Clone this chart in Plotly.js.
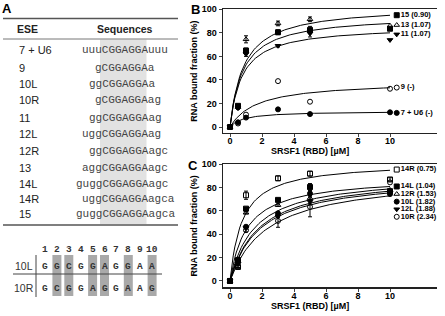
<!DOCTYPE html>
<html><head><meta charset="utf-8">
<script src="https://cdn.plot.ly/plotly-3.0.1.min.js"></script>
<style>html,body{margin:0;padding:0;background:#fff}#chart{width:445px;height:316px}</style>
</head><body><div id="chart"></div>
<script>
// ---------- Panel A : table ----------
const eseNames   = ['7 + U6','9','10L','10R','11','12L','12R','13','14L','14R','15'];
const seqPrefix  = ['uuu','g','gg','g','gg','ugg','gg','agg','gugg','ugg','gugg'];
const seqCore    = 'CGGAGGA';
const seqSuffix  = ['uuu','a','a','ag','ag','ag','agc','agc','agc','agca','agca'];
const alignPos   = ['1','2','3','4','5','6','7','8','9','10'];
const align10L   = ['G','G','C','G','G','A','G','G','A','A'];
const align10R   = ['G','C','G','G','A','G','G','A','A','G'];
const shadedPos  = [2,3,5,6,8,10];

// ---------- Panels B and C : binding data ----------
const conc = [0, 0.5, 1, 3, 5, 10];   // SRSF1 (RBD) µM

const bNames  = ['15','13','11','9','7 + U6'];
const bKd     = ['0.90','1.07','1.07','-','-'];
const bValues = [
  [0, 18, 65, 80.5, 82.5, 83.5],
  [0, 17, 74.5, 88, 91.5, 86],
  [0, 16, 62, 69, 79.5, 74],
  [0, 3, 10.5, 39, 21.5, 32.5],
  [0, 4, 8, 15, 11, 12.5]
];
const bErrors = [
  [0, 1, 2, 2, 3, 0],
  [0, 1, 3, 2, 2, 0],
  [0, 1, 2, 1, 3, 0],
  [0, 0, 0, 0, 0, 0],
  [0, 0, 0, 0, 0, 0]
];
const bFitKd   = [0.85, 0.8, 0.75, 1.7, 0.83];
const bFitBmax = [103, 95, 86, 39, 13.5];

const cNames  = ['14R','14L','12R','10L','12L','10R'];
const cKd     = ['0.75','1.04','1.53','1.82','1.88','2.34'];
const cValues = [
  [0, 12, 73.5, 88, 92, 87],
  [0, 18, 62, 69.5, 80.5, 77],
  [0, 17, 58.5, 65, 71, 78],
  [0, 16, 46.5, 58, 75, 74.5],
  [0, 15, 45.5, 55.5, 68, 75.5],
  [0, 12.5, 43.5, 51.5, 63.5, 84.5]
];
const cErrors = [
  [0, 1, 3.5, 2, 2, 1.5],
  [0, 1, 1, 1, 3, 1],
  [0, 0, 1, 1, 2, 0],
  [0, 0, 1, 1, 2, 0],
  [0, 0, 1, 1, 2, 0],
  [0, 1, 1.5, 5.5, 8.5, 0]
];
const cFitKd   = [0.75, 1.04, 1.53, 1.82, 1.88, 2.34];
const cFitBmax = [102, 89.4, 91, 91, 89.7, 90];

// ---------- styling / placement ----------
const W = 445, H = 316;
const px = v => v / W, py = v => 1 - v / H;
const bSymbols = ['square','triangle-up-open','triangle-down','circle-open','circle'];
const cSymbols = ['square-open','square','triangle-up-open','circle','triangle-down','circle-open'];
const bLabelY = [95, 86.6, 78.7, 33.5, 12];
const cLabelY = [95.5, 81, 74.5, 68, 61.5, 55];
const rowY = [50, 68, 84, 100, 118, 134, 151, 168, 184, 199, 214];
const colX = alignPos.map((_, i) => 45 + i * 11.9);
const CH = 6.6; // mono char width at 11px

const traces = [];
function addPanel(names, kd, values, errors, fitKd, fitBmax, symbols, labelY, xa, ya) {
  names.forEach((nm, i) => {
    const fx = [], fy = [];
    for (let k = 0; k <= 100; k++) { const x = k / 10; fx.push(x); fy.push(fitBmax[i] * x / (fitKd[i] + x)); }
    traces.push({x: fx, y: fy, xaxis: xa, yaxis: ya, mode: 'lines', line: {color: '#000', width: 1}, hoverinfo: 'skip'});
    const errs = errors[i].map(e => (e > 0 ? e : NaN));
    traces.push({
      x: conc, y: values[i], xaxis: xa, yaxis: ya, mode: 'markers',
      marker: {symbol: symbols[i], size: 5, color: '#000', line: {color: '#000', width: 1}},
      error_y: {type: 'data', array: errs, color: '#000', thickness: 1, width: 2, visible: errors[i].some(e => e > 0)},
      name: nm
    });
    traces.push({
      x: [10.42], y: [labelY[i]], xaxis: xa, yaxis: ya, mode: 'markers+text',
      marker: {symbol: symbols[i], size: 5, color: '#000', line: {color: '#000', width: 1}},
      text: [nm + ' (' + kd[i] + ')'], textposition: 'middle right',
      textfont: {size: 7.5, weight: 'bold', color: '#000'}, cliponaxis: false, hoverinfo: 'skip'
    });
  });
}
addPanel(bNames, bKd, bValues, bErrors, bFitKd, bFitBmax, bSymbols, bLabelY, 'x', 'y');
addPanel(cNames, cKd, cValues, cErrors, cFitKd, cFitBmax, cSymbols, cLabelY, 'x2', 'y2');

const shapes = [];
const annotations = [];
shapes.push({type:'line', xref:'paper', yref:'paper', x0:px(3), x1:px(178), y0:py(18.5), y1:py(18.5), line:{color:'#555', width:1.5}});
shapes.push({type:'line', xref:'paper', yref:'paper', x0:px(3), x1:px(178), y0:py(39), y1:py(39), line:{color:'#777', width:1}});
shapes.push({type:'line', xref:'paper', yref:'paper', x0:px(3), x1:px(178), y0:py(225), y1:py(225), line:{color:'#555', width:1.5}});
shapes.push({type:'rect', xref:'paper', yref:'paper', x0:px(100), x1:px(146.5), y0:py(224), y1:py(39.5), fillcolor:'#e2e2e2', line:{width:0}, layer:'below'});
shadedPos.forEach(p => {
  const cx = colX[p - 1];
  shapes.push({type:'rect', xref:'paper', yref:'paper', x0:px(cx - 4.5), x1:px(cx + 4.5), y0:py(296), y1:py(255), fillcolor:'#a9a9a9', line:{width:0}, layer:'below'});
});
shapes.push({type:'line', xref:'paper', yref:'paper', x0:px(13), x1:px(162), y0:py(274), y1:py(274), line:{color:'#444', width:1}});
shapes.push({type:'line', xref:'paper', yref:'paper', x0:px(36), x1:px(36), y0:py(255), y1:py(297), line:{color:'#444', width:1}});

function txt(x, y, t, opt) {
  annotations.push(Object.assign({xref:'paper', yref:'paper', x:px(x), y:py(y), text:t, showarrow:false,
    xanchor:'left', yanchor:'middle', font:{size:11, color:'#222'}}, opt || {}));
}
txt(7, 8, 'A', {xanchor:'center', font:{size:13, weight:'bold', color:'#000'}});
txt(195, 10, 'B', {xanchor:'center', font:{size:13, weight:'bold', color:'#000'}});
txt(193, 165, 'C', {xanchor:'center', font:{size:13, weight:'bold', color:'#000'}});
txt(27, 29, 'ESE', {xanchor:'center', font:{size:10.5, weight:'bold', color:'#222'}});
txt(125, 29, 'Sequences', {xanchor:'center', font:{size:10.5, weight:'bold', color:'#222'}});
eseNames.forEach((nm, i) => {
  txt(17, rowY[i], nm, {font:{size:11, color:'#222'}});
  txt(100 - seqPrefix[i].length * CH, rowY[i], seqPrefix[i] + seqCore + seqSuffix[i],
      {font:{size:11, family:'Liberation Mono, Courier New, monospace', color:'#444'}});
});
alignPos.forEach((p, i) => {
  txt(colX[i], 249, p, {xanchor:'center', font:{size:9.5, weight:'bold', family:'Liberation Mono, monospace', color:'#333'}});
  txt(colX[i], 266, align10L[i], {xanchor:'center', font:{size:9.5, weight:'bold', family:'Liberation Mono, monospace', color:'#333'}});
  txt(colX[i], 288, align10R[i], {xanchor:'center', font:{size:9.5, weight:'bold', family:'Liberation Mono, monospace', color:'#333'}});
});
txt(23.5, 266, '10L', {xanchor:'center', font:{size:10.5, color:'#333'}});
txt(23.5, 288, '10R', {xanchor:'center', font:{size:10.5, color:'#333'}});
// x-axis titles (placed precisely)
txt(310, 150.5, 'SRSF1 (RBD) [µM]', {xanchor:'center', font:{size:9, weight:'bold', color:'#000'}});
txt(310, 305.5, 'SRSF1 (RBD) [µM]', {xanchor:'center', font:{size:9, weight:'bold', color:'#000'}});

const xBase = {
  range: [-0.4375, 12.9375], tickvals: [0,2,4,6,8,10], ticks: 'outside', ticklen: 3, tickwidth: 1,
  ticklabelstandoff: -4,
  showline: true, linewidth: 1.5, linecolor: '#222', mirror: true, showgrid: false, zeroline: false,
  tickfont: {size: 9, weight: 'bold', color: '#000'}
};
const yBase = {
  tickvals: [0,20,40,60,80,100], ticks: 'outside', ticklen: 3, tickwidth: 1,
  showline: true, linewidth: 1.5, linecolor: '#222', showgrid: false, zeroline: false,
  tickfont: {size: 9, weight: 'bold', color: '#000'},
  title: {text: 'RNA bound fraction (%)', font: {size: 9, weight: 'bold', color: '#000'}, standoff: 2}
};
const layout = {
  width: W, height: H, margin: {l:0, r:0, t:0, b:0}, paper_bgcolor: '#fff', plot_bgcolor: 'rgba(0,0,0,0)',
  showlegend: false, font: {family: 'Liberation Sans, Arial, sans-serif'},
  xaxis: Object.assign({}, xBase, {domain: [px(223), px(437)], anchor: 'y'}),
  yaxis: Object.assign({}, yBase, {domain: [1 - 132.9 / H, 1 - 9.3 / H], range: [-5, 100], anchor: 'x'}),
  xaxis2: Object.assign({}, xBase, {domain: [px(223), px(437)], anchor: 'y2'}),
  yaxis2: Object.assign({}, yBase, {domain: [1 - 287.4 / H, 1 - 164.3 / H], range: [-5.5, 100], anchor: 'x2'}),
  shapes: shapes, annotations: annotations
};
Plotly.newPlot('chart', traces, layout, {displayModeBar: false, staticPlot: true});
</script></body></html>
